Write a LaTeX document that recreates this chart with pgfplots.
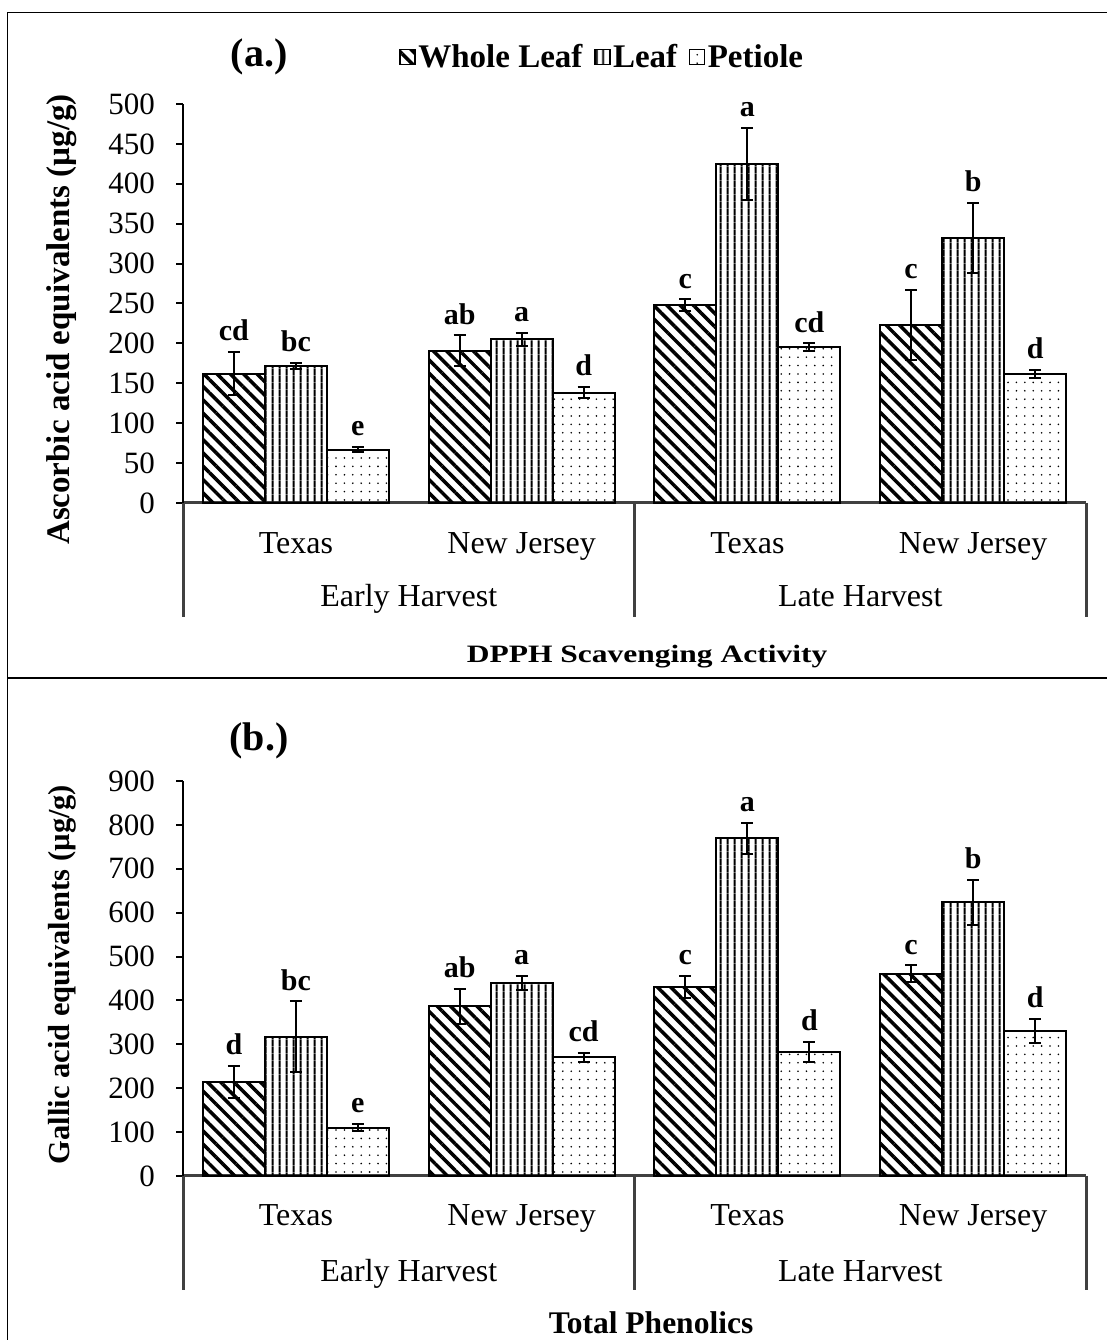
\documentclass[border=0pt]{standalone}
\usepackage{pgfplots}
\pgfplotsset{compat=1.18}
\usepackage{pgfplotstable}
\usetikzlibrary{patterns.meta}
\usepackage{fontspec}
\setmainfont{Liberation Serif}
\newfontfamily\widefont{Liberation Serif}[FakeStretch=1.26]
\definecolor{axgray}{RGB}{64,64,64}

% DPPH (a.)
\pgfplotstableread{
x y e lab
0.5 162 27 cd
1.5 191 19 ab
2.5 248 7 c
3.5 223 44 c
}\aWL
\pgfplotstableread{
x y e lab
0.5 172 4 bc
1.5 205 8 a
2.5 425 45 a
3.5 332 44 b
}\aLF
\pgfplotstableread{
x y e lab
0.5 67 3 e
1.5 138 7 d
2.5 195 5 cd
3.5 162 5 d
}\aPT
% Total phenolics (b.)
\pgfplotstableread{
x y e lab
0.5 214 36 d
1.5 387 40 ab
2.5 431 25 c
3.5 461 19 c
}\bWL
\pgfplotstableread{
x y e lab
0.5 317 81 bc
1.5 440 16 a
2.5 769 36 a
3.5 624 51 b
}\bLF
\pgfplotstableread{
x y e lab
0.5 110 8 e
1.5 270 10 cd
2.5 282 23 d
3.5 330 28 d
}\bPT

\tikzset{
 wlpat/.style={pattern={Lines[angle=-45,distance=9.4pt,line width=3.5pt]}},
 lfpat/.style={pattern={Lines[angle=90,distance=6.85pt,line width=2pt]}},
 ptpat/.style={pattern={Dots[distance=8.4pt,radius=0.9pt]}},
 catlab/.style={font=\fontsize{32}{38}\selectfont, anchor=base},
}

\pgfplotsset{
 mybase/.style={
  scale only axis, width=903pt, xmin=0, xmax=4, ymin=0,
  ybar, bar width=0.2746, clip=false,
  axis x line*=bottom, axis y line*=left,
  x axis line style={draw=axgray, line width=3pt},
  y axis line style={draw=black, line width=2pt},
  xtick=\empty,
  y tick style={black, line width=2pt},
  tick align=outside, major tick length=7pt,
  /pgf/number format/assume math mode=true,
  yticklabel style={font=\fontsize{31}{37}\selectfont, anchor=east, inner sep=0pt, xshift=-21pt},
  point meta=explicit symbolic,
  nodes near coords,
  visualization depends on={\thisrow{e} \as \myerr},
  nodes near coords style={anchor=south, inner sep=0pt, font=\bfseries\fontsize{30}{36}\selectfont, shift={(axis direction cs:0,\myerr)}, yshift=10pt},
  error bars/y dir=both, error bars/y explicit,
  error bars/error bar style={line width=2pt, black},
  error bars/error mark options={rotate=90, mark size=6pt, line width=2pt, black},
  legend image code/.code={\draw[#1, line width=1.6pt] (0pt,-7.5pt) rectangle (15pt,7.5pt);},
 },
}

\newcommand{\catlabels}[2]{%
  \node[catlab] at (axis cs:0.5,0) [yshift=-#1] {Texas};
  \node[catlab] at (axis cs:1.5,0) [yshift=-#1] {New Jersey};
  \node[catlab] at (axis cs:2.5,0) [yshift=-#1] {Texas};
  \node[catlab] at (axis cs:3.5,0) [yshift=-#1] {New Jersey};
  \node[catlab] at (axis cs:1,0) [yshift=-#2] {Early Harvest};
  \node[catlab] at (axis cs:3,0) [yshift=-#2] {Late Harvest};
  \draw[axgray, line width=3pt] (axis cs:0,0) -- ++(0pt,-114pt);
  \draw[axgray, line width=3pt] (axis cs:2,0) -- ++(0pt,-114pt);
  \draw[axgray, line width=3pt] (axis cs:4,0) -- ++(0pt,-114pt);
}

\begin{document}
\begin{tikzpicture}[x=1pt,y=1pt]
\useasboundingbox (0,0) rectangle (1107,1340);
% frame
\draw[line width=1.5pt] (7.5,-10) -- (7.5,1327.5) -- (1120,1327.5);
\draw[line width=1.5pt] (7.5,662) -- (1120,662);

\begin{axis}[mybase, height=399pt, ymax=500, ytick={0,50,...,500},
  at={(183pt,837pt)}, anchor=south west,
  ylabel={Ascorbic acid equivalents (µg/g)},
  every axis y label/.style={at={(axis description cs:-0.134,0.46)}, rotate=90, anchor=center, font=\bfseries\fontsize{33}{39}\selectfont},
  legend columns=3,
  legend style={draw=none, fill=none, at={(axis description cs:0.4645,1.118)}, anchor=center,
    font=\bfseries\fontsize{33}{39}\selectfont,
    nodes={inner sep=2.5pt},
    /tikz/every even column/.append style={column sep=9pt}},
]
\addplot[draw=black, line width=2pt, wlpat, bar shift=-0.2746] table[x=x, y=y, y error=e, meta=lab] {\aWL};
\addplot[draw=black, line width=2pt, lfpat, bar shift=0] table[x=x, y=y, y error=e, meta=lab] {\aLF};
\addplot[draw=black, line width=2pt, ptpat, bar shift=0.2746] table[x=x, y=y, y error=e, meta=lab] {\aPT};
\legend{Whole Leaf, Leaf, Petiole}
\catlabels{50.5pt}{104pt}
\end{axis}

\begin{axis}[mybase, height=395pt, ymax=900, ytick={0,100,...,900},
  at={(183pt,164pt)}, anchor=south west,
  ylabel={Gallic acid equivalents (µg/g)},
  every axis y label/.style={at={(axis description cs:-0.134,0.51)}, rotate=90, anchor=center, font=\bfseries\fontsize{30.5}{36}\selectfont},
]
\addplot[draw=black, line width=2pt, wlpat, bar shift=-0.2746] table[x=x, y=y, y error=e, meta=lab] {\bWL};
\addplot[draw=black, line width=2pt, lfpat, bar shift=0] table[x=x, y=y, y error=e, meta=lab] {\bLF};
\addplot[draw=black, line width=2pt, ptpat, bar shift=0.2746] table[x=x, y=y, y error=e, meta=lab] {\bPT};
\catlabels{49.5pt}{105pt}
\end{axis}

\node[font=\bfseries\fontsize{40}{48}\selectfont] at (259,1283) {(a.)};
\node[font=\bfseries\fontsize{40}{48}\selectfont] at (259,599) {(b.)};
\node[font=\widefont\bfseries\fontsize{25}{30}\selectfont, anchor=base] at (647,677) {DPPH Scavenging Activity};
\node[font=\bfseries\fontsize{31.5}{37}\selectfont, anchor=base] at (651,6) {Total Phenolics};
\end{tikzpicture}
\end{document}
